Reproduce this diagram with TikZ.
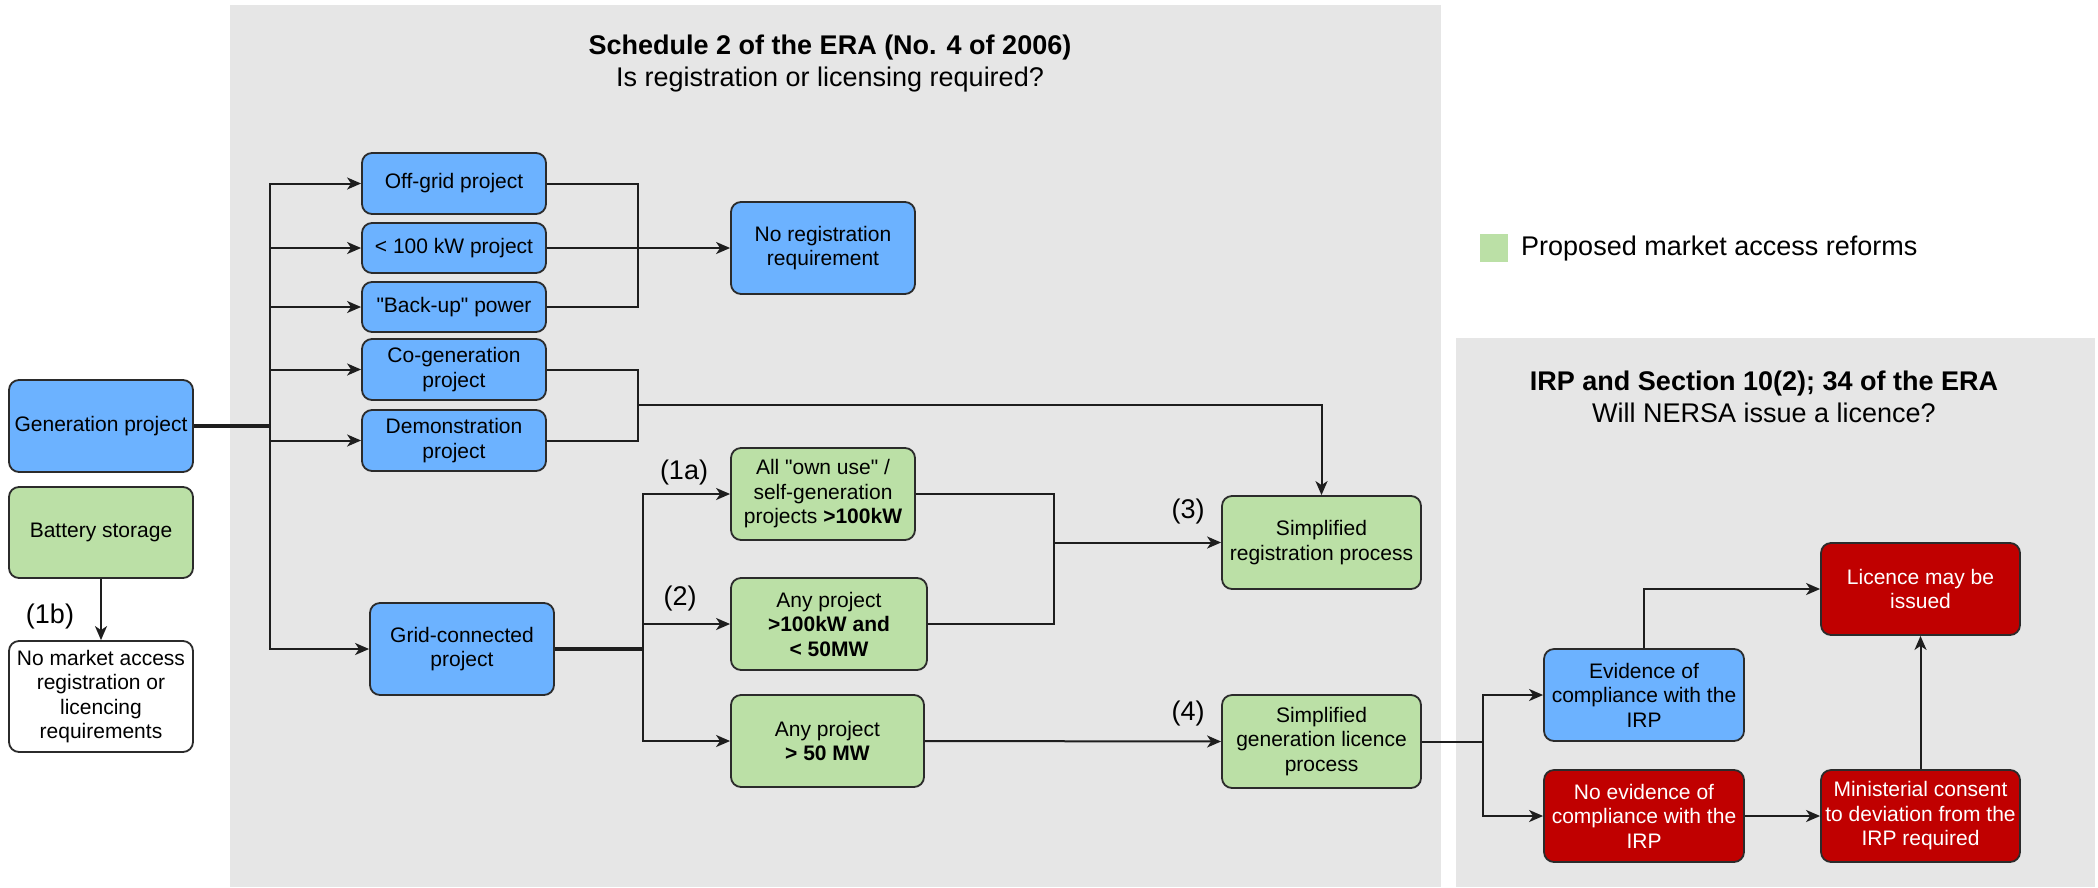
\documentclass[tikz,border=0pt]{standalone}
\usepackage{fontspec}
\setmainfont{Liberation Sans}
\usetikzlibrary{arrows.meta}

\definecolor{panelgray}{HTML}{E6E6E6}
\definecolor{boxblue}{HTML}{6CB2FF}
\definecolor{boxgreen}{HTML}{BBE0A6}
\definecolor{boxred}{HTML}{C00000}
\definecolor{edgegray}{HTML}{2B2B2B}
\definecolor{linegray}{HTML}{1E1E1E}

\newcommand\boxfont{\fontsize{21}{24.5}\selectfont}
\newcommand\headfont{\fontsize{27}{32}\selectfont}

\begin{document}
\begin{tikzpicture}[>={Stealth[length=14pt,width=12pt,inset=4pt]}, x=1pt, y=-1pt,
    box/.style={draw=edgegray, line width=1.8pt, rounded corners=10pt, align=center,
                inner sep=1pt, font=\boxfont, text=black},
    bluebox/.style={box, fill=boxblue},
    greenbox/.style={box, fill=boxgreen},
    redbox/.style={box, fill=boxred, text=white},
    whitebox/.style={box, fill=white},
    conn/.style={line width=2pt, draw=linegray},
    trunk/.style={line width=3.5pt, draw=linegray},
    tag/.style={font=\headfont, inner sep=0pt},
  ]

    \useasboundingbox (0,0) rectangle (2098,887);

    % grey panels
    \fill[panelgray] (230,5) rectangle (1441,887);
    \fill[panelgray] (1456,338) rectangle (2095,887);

    % panel headings
    \node[tag, align=center] (eratitle) at (830,64)
        {\textbf{Schedule 2 of the ERA (No. 4 of 2006)}\\Is registration or licensing required?};
    \node[tag, align=center] (irptitle) at (1764,397)
        {\textbf{IRP and Section 10(2); 34 of the ERA}\\Will NERSA issue a licence?};

    % legend
    \node[fill=boxgreen, minimum size=28pt, inner sep=0pt] (legendkey) at (1494,248) {};
    \node[tag, anchor=west] (legend) at (1521,249) {Proposed market access reforms};

    % left column
    \node[bluebox, minimum width=184pt, minimum height=92pt] (gen) at (101,426) {Generation project};
    \node[greenbox, minimum width=184pt, minimum height=91pt] (batt) at (101,532.5) {Battery storage};
    \node[whitebox, minimum width=184pt, minimum height=111pt] (nomarket) at (101,696.5)
        {No market access\\registration or\\licencing\\requirements};

    % project types
    \node[bluebox, minimum width=184pt, minimum height=61pt] (offgrid) at (454,183.5) {Off-grid project};
    \node[bluebox, minimum width=184pt, minimum height=50pt] (small) at (454,248) {< 100 kW project};
    \node[bluebox, minimum width=184pt, minimum height=50pt] (backup) at (454,307)
        {\textquotedbl Back-up\textquotedbl{} power};
    \node[bluebox, minimum width=184pt, minimum height=61pt] (cogen) at (454,369.5) {Co-generation\\project};
    \node[bluebox, minimum width=184pt, minimum height=61pt] (demo) at (454,440.5) {Demonstration\\project};
    \node[bluebox, minimum width=184pt, minimum height=92pt] (grid) at (462,649) {Grid-connected\\project};

    % second column
    \node[bluebox, minimum width=184pt, minimum height=92pt] (noreg) at (823,248) {No registration\\requirement};
    \node[greenbox, minimum width=184pt, minimum height=92pt] (ownuse) at (823,494)
        {All \textquotedbl own use\textquotedbl{} /\\self-generation\\projects \textbf{>100kW}};
    \node[greenbox, minimum width=196pt, minimum height=92pt] (mid) at (829,624)
        {Any project\\\textbf{>100kW and}\\\textbf{< 50MW}};
    \node[greenbox, minimum width=193pt, minimum height=92pt] (large) at (827.5,741)
        {Any project\\\textbf{> 50 MW}};

    % simplified processes
    \node[greenbox, minimum width=199pt, minimum height=93pt] (simreg) at (1321.5,542.5)
        {Simplified\\registration process};
    \node[greenbox, minimum width=199pt, minimum height=93pt] (simgen) at (1321.5,741.5)
        {Simplified\\generation licence\\process};

    % NERSA decision
    \node[redbox, minimum width=199pt, minimum height=92pt] (licence) at (1920.5,589) {Licence may be\\issued};
    \node[bluebox, minimum width=200pt, minimum height=92pt] (evid) at (1644,695)
        {Evidence of\\compliance with the\\IRP};
    \node[redbox, minimum width=200pt, minimum height=92pt] (noevid) at (1644,816)
        {No evidence of\\compliance with the\\IRP};
    \node[redbox, minimum width=199pt, minimum height=92pt] (minist) at (1920.5,816)
        {Ministerial consent\\to deviation from the\\IRP required};

    % step labels
    \node[tag] (l1b) at (50,616) {(1b)};
    \node[tag] (l1a) at (684,473) {(1a)};
    \node[tag] (l2) at (680,599) {(2)};
    \node[tag] (l3) at (1188,512) {(3)};
    \node[tag] (l4) at (1188,713) {(4)};

    % generation project splits
    \coordinate (split) at (270,426);
    \draw[trunk] (gen.east) -- (split);
    \foreach \n in {offgrid,small,backup,cogen,demo,grid}
        \draw[conn,->] (split) |- (\n.west);
    \draw[conn,->] (batt.south) -- (nomarket.north);

    % exempt projects
    \coordinate (mergeA) at (638,248);
    \draw[conn] (offgrid.east) -| (mergeA);
    \draw[conn] (backup.east) -| (mergeA);
    \draw[conn,->] (small.east) -- (noreg.west);

    % co-generation and demonstration
    \coordinate (mergeB) at (638,405);
    \draw[conn] (cogen.east) -| (mergeB);
    \draw[conn] (demo.east) -| (mergeB);
    \draw[conn,->] (mergeB) -| (simreg.north);

    % grid-connected splits
    \coordinate (splitB) at (643,649);
    \draw[trunk] (grid.east) -- (splitB);
    \foreach \n in {ownuse,mid,large}
        \draw[conn,->] (splitB) |- (\n.west);

    \coordinate (mergeC) at (1054,542.5);
    \draw[conn] (ownuse.east) -| (mergeC);
    \draw[conn] (mid.east) -| (mergeC);
    \draw[conn,->] (mergeC) -- (simreg.west);
    \draw[conn,->] (large.east) -- (simgen.west);

    % licence decision
    \coordinate (splitC) at (1483,741.5);
    \draw[conn] (simgen.east) -- (splitC);
    \draw[conn,->] (splitC) |- (evid.west);
    \draw[conn,->] (splitC) |- (noevid.west);
    \draw[conn,->] (evid.north) |- (licence.west);
    \draw[conn,->] (noevid.east) -- (minist.west);
    \draw[conn,->] (minist.north) -- (licence.south);

\end{tikzpicture}
\end{document}
